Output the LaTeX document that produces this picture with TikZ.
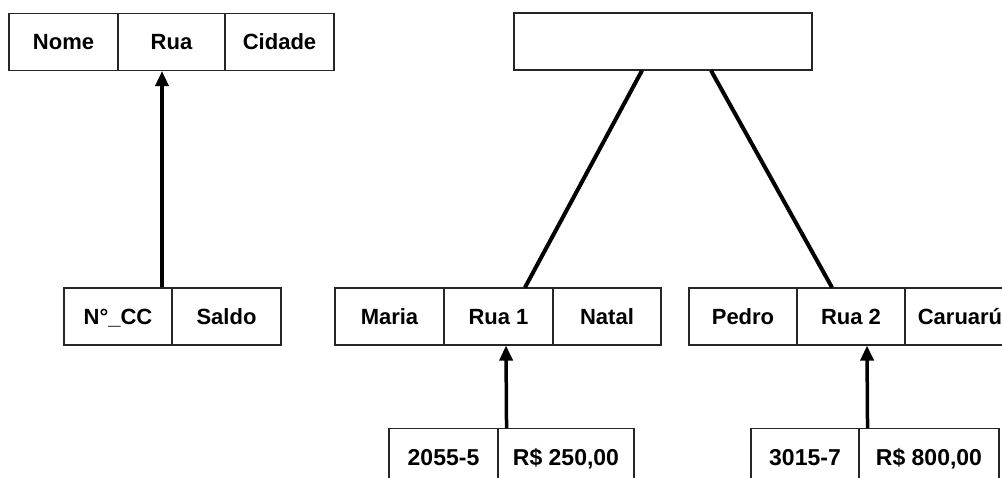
\documentclass[tikz,border=0pt]{standalone}
\usepackage{fontspec}
\setmainfont{Liberation Sans}
\usetikzlibrary{arrows.meta}

\tikzset{
  celula/.style={draw=black!85, line width=1.1pt, inner sep=0pt,
    minimum height=57pt, text height=16pt, text depth=0pt,
    font=\bfseries\fontsize{22}{26}\selectfont},
  conta/.style={celula, font=\bfseries\fontsize{23}{27}\selectfont},
  ligacao/.style={line width=4pt},
  seta/.style={line width=3.5pt, -{Triangle[width=13pt,length=15pt]}}
}

\begin{document}
\begin{tikzpicture}[x=1pt,y=-1pt]
	\useasboundingbox (0,0) rectangle (1002,478);
	\clip (0,0) rectangle (1002,478);

	% esquema cliente
	\node[celula, minimum width=109pt] (nome)   at (63.5,42)  {Nome};
	\node[celula, minimum width=107pt] (rua)    at (171.5,42) {Rua};
	\node[celula, minimum width=109pt] (cidade) at (279.5,42) {Cidade};

	% esquema conta
	\node[celula, minimum width=108pt] (ncc)   at (118,316.5)   {N°\_CC};
	\node[celula, minimum width=109pt] (saldo) at (226.5,316.5) {Saldo};

	\draw[seta] ([xshift=44pt]ncc.north) -- ([xshift=-9.5pt]rua.south);

	% raiz vazia
	\node[celula, minimum width=298pt] (raiz) at (663,41.5) {};

	% clientes
	\node[celula, minimum width=109pt] (maria) at (389.5,316.5) {Maria};
	\node[celula, minimum width=109pt] (rua1)  at (498.5,316.5) {Rua 1};
	\node[celula, minimum width=108pt] (natal) at (607,316.5)   {Natal};

	\node[celula, minimum width=108pt] (pedro)   at (743,316.5) {Pedro};
	\node[celula, minimum width=108pt] (rua2)    at (851,316.5) {Rua 2};
	\node[celula, minimum width=110pt] (caruaru) at (960,316.5) {Caruarú};

	\draw[ligacao] ([xshift=-21pt]raiz.south) -- ([xshift=26.5pt]rua1.north);
	\draw[ligacao] ([xshift=48pt]raiz.south) -- ([xshift=-19pt]rua2.north);

	% contas
	\node[conta, minimum width=109pt] (conta1) at (443.5,457) {2055-5};
	\node[conta, minimum width=136pt] (saldo1) at (566,457)   {R\$ 250,00};
	\node[conta, minimum width=108pt] (conta2) at (805,457)   {3015-7};
	\node[conta, minimum width=140pt] (saldo2) at (929,457)   {R\$ 800,00};

	\draw[seta] ([xshift=8pt]conta1.north east) -- ([xshift=7.5pt]rua1.south);
	\draw[seta] ([xshift=8pt]conta2.north east) -- ([xshift=16pt]rua2.south);
\end{tikzpicture}
\end{document}
